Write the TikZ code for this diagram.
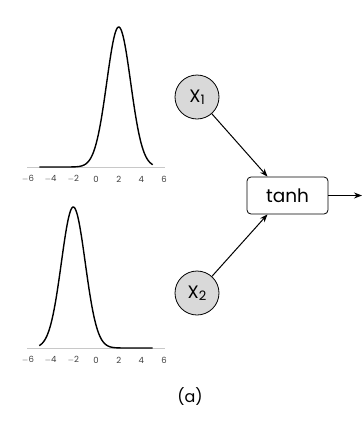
\documentclass[tikz,border=0pt]{standalone}
\usepackage{fontspec}
\setmainfont{Poppins}
\usetikzlibrary{arrows.meta,calc}
\definecolor{nodegray}{HTML}{D9D9D9}
\definecolor{axisgray}{HTML}{C8C8C8}
\newcommand{\lowsub}[1]{\raisebox{-2.5pt}{\fontsize{13}{13}\selectfont #1}}
\begin{document}
\begin{tikzpicture}[x=1pt,y=-1pt,
  inp/.style={circle,draw,fill=nodegray,minimum size=44pt,inner sep=0pt,font=\fontsize{18}{18}\selectfont,line width=0.8pt},
  actbox/.style={rectangle,rounded corners=4pt,draw,minimum width=81pt,minimum height=37pt,font=\fontsize{18.5}{18.5}\selectfont,line width=0.8pt},
  conn/.style={-{Stealth[length=8pt,width=6pt]},line width=1pt},
  ticklab/.style={font=\fontsize{8.5}{8.5}\selectfont,text=black!75,inner sep=0pt},
  axisline/.style={draw=axisgray,line width=0.9pt},
  curve/.style={line width=1.4pt,line join=round}]
\useasboundingbox (0,0) rectangle (363,424);
% top plot
\draw[axisline] (27,167) -- (165,167);
\foreach \v/\t in {-6/$-$6,-4/$-$4,-2/$-$2,0/0,2/2,4/4,6/6}{
  \node[ticklab] at ({96+11.35*\v},179) {\t};}
\draw[curve] plot[domain=-5:5,samples=120,smooth] ({96+11.35*\x},{167-140*exp(-((\x-2)^2)/(2*1.05^2))});
% bottom plot
\draw[axisline] (27,348) -- (165,348);
\foreach \v/\t in {-6/$-$6,-4/$-$4,-2/$-$2,0/0,2/2,4/4,6/6}{
  \node[ticklab] at ({96+11.35*\v},360) {\t};}
\draw[curve] plot[domain=-5:5,samples=120,smooth] ({96+11.35*\x},{348-141*exp(-((\x+2)^2)/(2*1.05^2))});
% network
\node[inp] (x1) at (197,97) {X\lowsub{1}};
\node[inp] (x2) at (197,293) {X\lowsub{2}};
\node[actbox] (t) at (287.5,195.5) {tanh};
\coordinate (out) at (362,195.5);
\draw[conn] (x1) -- ([xshift=-20pt]t.north);
\draw[conn] (x2) -- ([xshift=-20pt]t.south);
\draw[conn] (t.east) -- (out);
\node[font=\fontsize{16}{16}\selectfont] (lab) at (190,397) {(a)};
\end{tikzpicture}
\end{document}
